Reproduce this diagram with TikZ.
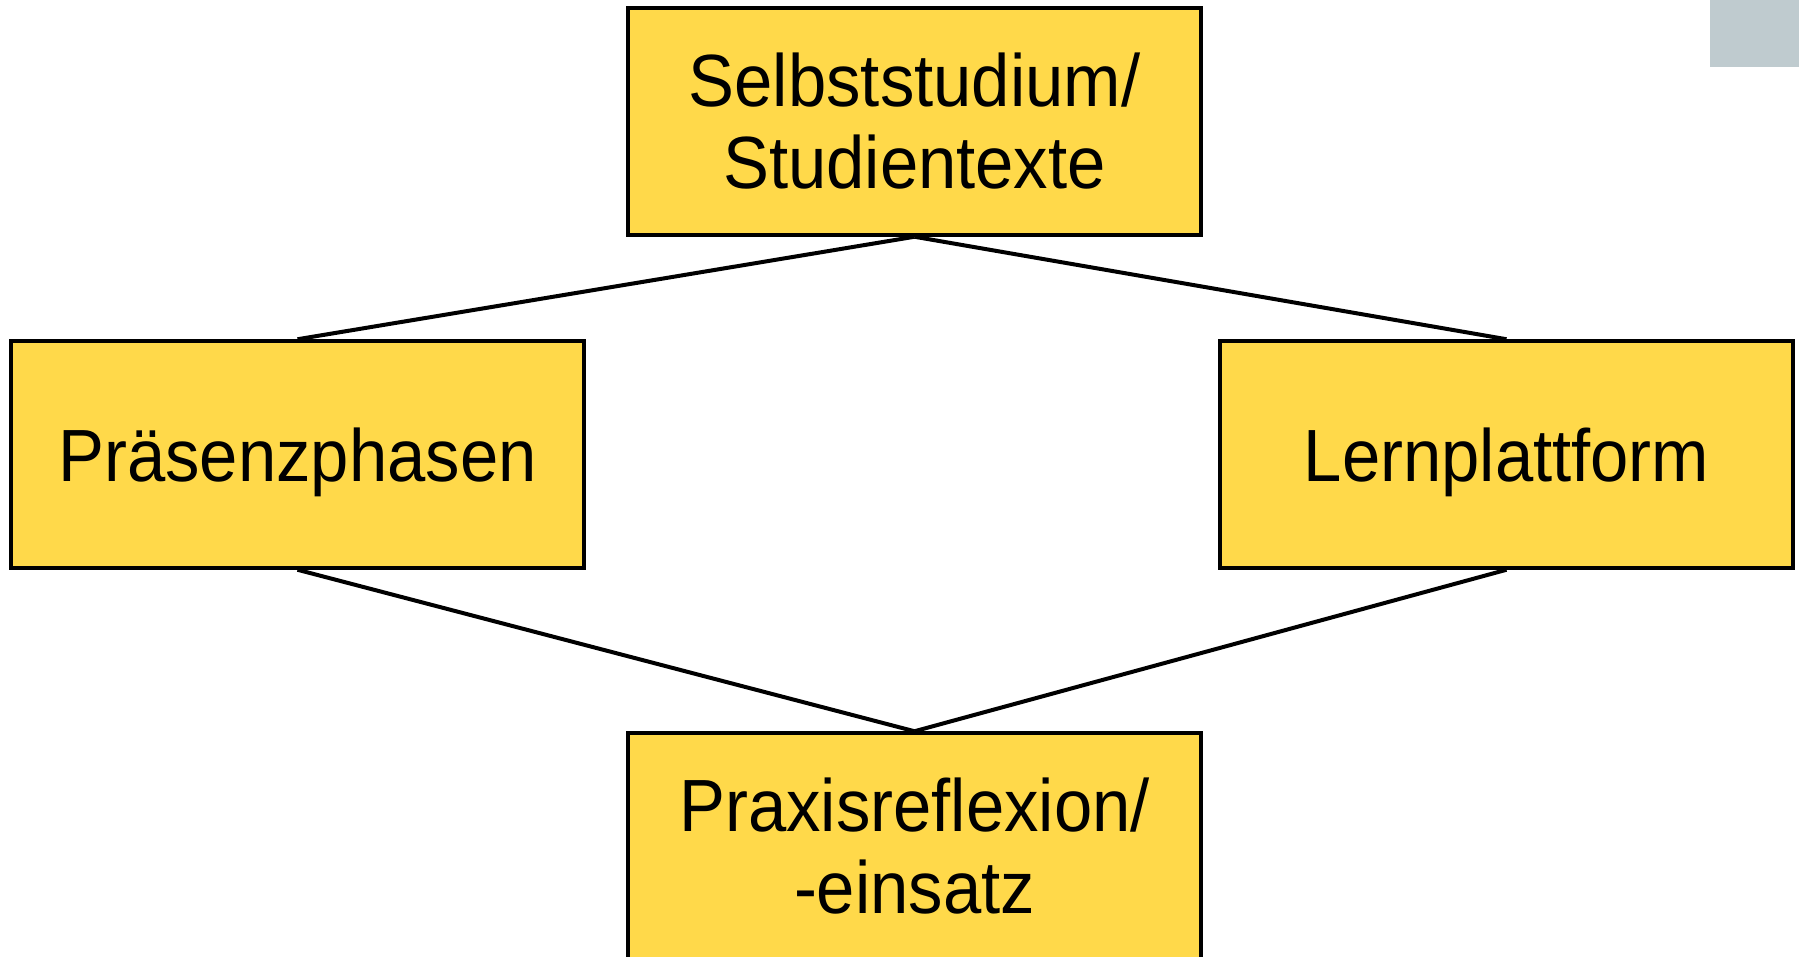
\documentclass[tikz,border=0pt]{standalone}
\usepackage{fontspec}
\setmainfont{Liberation Sans}[FakeStretch=0.93]
\definecolor{boxfill}{rgb}{1.000000, 0.850000, 0.290000}
\definecolor{cornergray}{rgb}{0.750000, 0.796000, 0.812000}
\tikzset{
  phasebox/.style={draw=black, fill=boxfill, line width=3.5pt, minimum width=573pt,
    minimum height=227pt, inner sep=0pt, align=center,
    font=\fontsize{74}{82}\selectfont},
  oneline/.style={text depth=0pt},
  link/.style={draw=black, line width=4pt}
}

\begin{document}
\begin{tikzpicture}[x=1pt,y=-1pt]
\useasboundingbox (0,0) rectangle (1799,957);
% grey corner
\fill[cornergray] (1710,0) rectangle (1799,67);
% boxes
\node[phasebox] (selbst) at (914.5,121.5) {Selbststudium/\\Studientexte};
\node[phasebox,oneline] (praesenz) at (297.5,454.5) {Präsenzphasen};
\node[phasebox,oneline] (lernpl) at (1506.5,454.5) {Lernplattform};
\node[phasebox] (praxis) at (914.5,846.5) {Praxisreflexion/\\-einsatz};
% links
\draw[link] (selbst.south) -- (praesenz.north);
\draw[link] (selbst.south) -- (lernpl.north);
\draw[link] (praesenz.south) -- (praxis.north);
\draw[link] (lernpl.south) -- (praxis.north);
\end{tikzpicture}
\end{document}
